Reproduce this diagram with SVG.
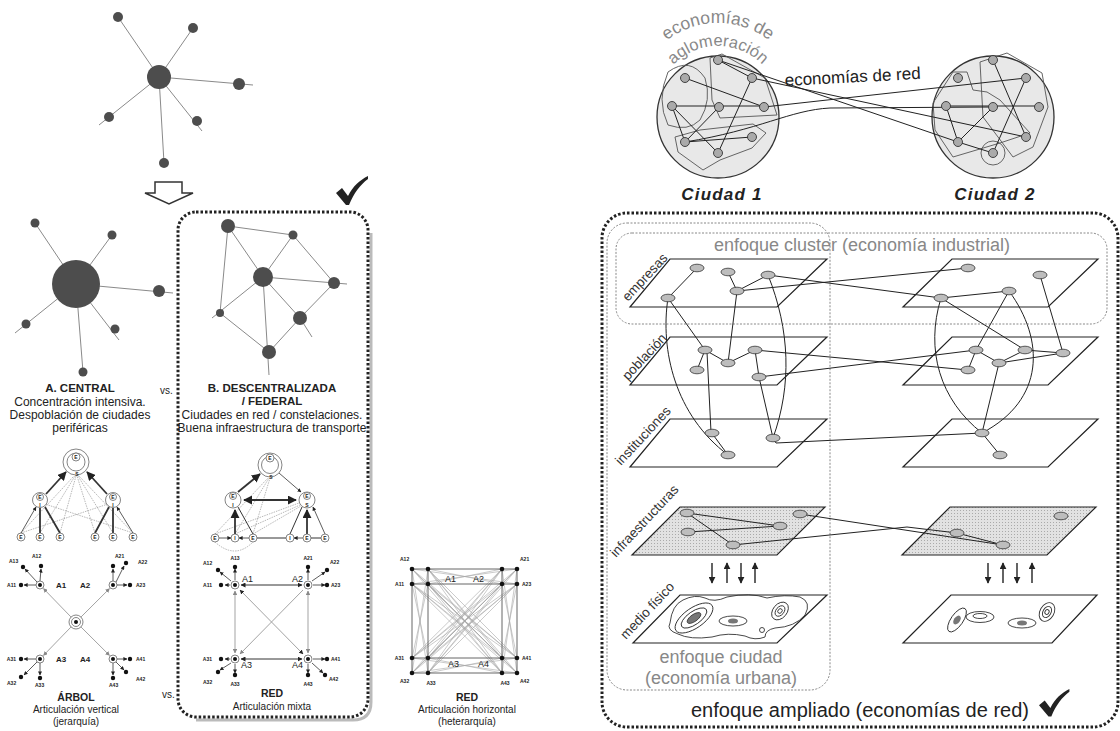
<svg xmlns="http://www.w3.org/2000/svg" width="1120" height="731" viewBox="0 0 1120 731">
<defs>
<style>
text{font-family:"Liberation Sans",Arial,sans-serif;fill:#222}
.b{font-weight:bold}
.c{text-anchor:middle}
.e{text-anchor:end}
.t12{font-size:12px}
.t10{font-size:10px}
.t9{font-size:9px}
.t8{font-size:8px}
.t5{font-size:5px;font-weight:bold}
.ln{stroke:#8a8a8a;stroke-width:1;fill:none}
.nd{fill:#4d4d4d}
.dk{stroke:#333;stroke-width:1;fill:none}
.ka{stroke:#333;stroke-width:0.8;fill:none;marker-end:url(#a)}
.thk{stroke:#333;stroke-width:1.8;fill:none}
.gr{stroke:#999;stroke-width:0.9;fill:none}
.dsh{stroke:#999;stroke-width:0.7;fill:none;stroke-dasharray:1.5 1}
.cw{fill:#fff;stroke:#666;stroke-width:0.8}
.dot{fill:#111}
.box{fill:none;stroke:#222;stroke-width:3;stroke-dasharray:2.5 2}
.shd{fill:none;stroke:#bbb;stroke-width:3}
.inner{fill:none;stroke:#888;stroke-width:1;stroke-dasharray:2 1.5}
.pl{fill:#fff;stroke:#222;stroke-width:1.2}
.pli{fill:url(#hatch);stroke:#222;stroke-width:1.2}
.en{fill:#bdbdbd;stroke:#333;stroke-width:0.8}
.cn{fill:#aaa;stroke:#333;stroke-width:0.9}
.cy{fill:#e8e8e8;stroke:#333;stroke-width:1.3}
.blob{fill:none;stroke:#555;stroke-width:0.9}
.cl{stroke:#222;stroke-width:1;fill:none}
.va{stroke:#222;stroke-width:1.4;fill:none;marker-end:url(#a)}
.ct{fill:none;stroke:#333;stroke-width:0.9}
.gt{fill:#888}
.lay{font-size:13.5px;fill:#333}
</style>
<marker id="a" viewBox="0 0 10 10" refX="9" refY="5" markerWidth="5" markerHeight="5" orient="auto-start-reverse"><path d="M0 0L10 5L0 10z" fill="#222"/></marker>
<marker id="ag" viewBox="0 0 10 10" refX="9" refY="5" markerWidth="5" markerHeight="5" orient="auto-start-reverse"><path d="M0 0L10 5L0 10z" fill="#888"/></marker>
<pattern id="hatch" width="3" height="3" patternUnits="userSpaceOnUse"><rect width="3" height="3" fill="#e2e2e2"/><rect width="1" height="1" fill="#aaa"/></pattern>
<path id="chk" d="M0 17L6 12L12 20C17 10 24 4 32 0L32 3C24 9 18 17 13 29L10 29Z" fill="#222"/>
<path id="arc1" d="M644.4 65.5A85 85 0 0 1 791.6 65.5"/>
<path id="arc2" d="M664.3 77A62 62 0 0 1 771.7 77"/>
</defs>
<rect width="1120" height="731" fill="#fff"/>

<!-- ============ LEFT PANEL ============ -->
<g id="star-top">
<path class="ln" d="M159 77L118 17M159 77L193 28M159 77L253 85M159 77L99 125M159 77L202 131M159 77L164 163"/>
<circle class="nd" cx="159" cy="77" r="12"/>
<circle class="nd" cx="118" cy="17" r="5"/>
<circle class="nd" cx="193" cy="28" r="5"/>
<circle class="nd" cx="239" cy="84" r="6"/>
<circle class="nd" cx="109" cy="117" r="5"/>
<circle class="nd" cx="197" cy="121" r="5"/>
<circle class="nd" cx="164" cy="163" r="5"/>
</g>
<g id="down-arrow">
<path d="M155 182H182V193H193L169 204L145 193H155Z" fill="#fff" stroke="#333" stroke-width="1.5"/>
</g>

<g id="central">
<path class="ln" d="M76 284L35 223M76 284L112 235M76 284L173 293M76 284L15 333M76 284L119 340M76 284L83 372"/>
<circle class="nd" cx="76" cy="284" r="24"/>
<circle class="nd" cx="35" cy="223" r="4.5"/>
<circle class="nd" cx="112" cy="235" r="4.5"/>
<circle class="nd" cx="159" cy="291" r="6"/>
<circle class="nd" cx="26" cy="324" r="4.5"/>
<circle class="nd" cx="115" cy="329" r="4.5"/>
<circle class="nd" cx="83" cy="372" r="4.5"/>
<text class="b c" x="80" y="392" style="font-size:11.5px">A. CENTRAL</text>
<text class="c t12" x="80" y="406">Concentración intensiva.</text>
<text class="c t12" x="80" y="419">Despoblación de ciudades</text>
<text class="c t12" x="80" y="432">periféricas</text>
</g>
<text class="t10" x="160" y="394">vs.</text>

<g id="box-b">
<path class="shd" d="M371 233V702Q371 720 353 720H196"/>
<rect class="box" x="178" y="212" width="190" height="505" rx="18"/>
<use href="#chk" transform="translate(336,176)"/>
</g>

<g id="descentralizada">
<path class="ln" d="M228 226L293 235M228 226L263 277M228 226L220 313M293 235L263 277M293 235L334 283M263 277L347 284M263 277L212 318M263 277L300 318M263 277L269 375M334 283L300 318M220 313L269 352M269 352L300 318M300 318L312 337"/>
<circle class="nd" cx="228" cy="226" r="7"/>
<circle class="nd" cx="293" cy="235" r="4.5"/>
<circle class="nd" cx="263" cy="277" r="10"/>
<circle class="nd" cx="334" cy="283" r="6"/>
<circle class="nd" cx="220" cy="313" r="4"/>
<circle class="nd" cx="300" cy="318" r="7"/>
<circle class="nd" cx="269" cy="352" r="7"/>
<text class="b c" x="272" y="392" style="font-size:11.5px">B. DESCENTRALIZADA</text>
<text class="b c" x="272" y="405" style="font-size:11.5px">/ FEDERAL</text>
<text class="c t12" x="272" y="419">Ciudades en red / constelaciones.</text>
<text class="c t12" x="272" y="432">Buena infraestructura de transporte</text>
</g>

<g id="tree-a">
<path class="dsh" d="M21 533L74 476M40 533L75 476M60 533L76 476M95 533L77 476M113 533L78 476M133 533L79 476M21 533L108 504M133 533L45 504"/>
<path class="thk" d="M40 533V508M60 533L45 507M95 533L109 507M113 533V508"/>
<path class="ka" d="M21 533L36 507"/>
<path class="ka" d="M133 533L117 507"/>
<path class="thk" d="M46 494L66 472" marker-end="url(#a)"/>
<path class="thk" d="M107 494L87 472" marker-end="url(#a)"/>
<circle class="cw" cx="76" cy="462" r="13"/>
<circle class="cw" cx="76" cy="462" r="9"/>
<circle class="cw" cx="76" cy="457" r="4"/>
<text class="t5 c" x="76" y="459">E</text>
<text class="t5 c" x="77" y="476">S</text>
<circle class="cw" cx="40" cy="500" r="7.5"/>
<circle class="cw" cx="40" cy="497" r="3.5"/>
<text class="t5 c" x="40" y="499">E</text>
<text class="t5 c" x="40" y="507">I</text>
<circle class="cw" cx="113" cy="500" r="7.5"/>
<circle class="cw" cx="113" cy="497" r="3.5"/>
<text class="t5 c" x="113" y="499">E</text>
<text class="t5 c" x="113" y="507">I</text>
<g>
<circle class="cw" cx="21" cy="537" r="4"/><text class="t5 c" x="21" y="539">E</text>
<circle class="cw" cx="40" cy="537" r="4"/><text class="t5 c" x="40" y="539">E</text>
<circle class="cw" cx="60" cy="537" r="4"/><text class="t5 c" x="60" y="539">E</text>
<circle class="cw" cx="95" cy="537" r="4"/><text class="t5 c" x="95" y="539">E</text>
<circle class="cw" cx="113" cy="537" r="4"/><text class="t5 c" x="113" y="539">E</text>
<circle class="cw" cx="133" cy="537" r="4"/><text class="t5 c" x="133" y="539">E</text>
</g>
</g>

<g id="tree-b">
<path class="dsh" d="M215 534L268 478M235 534L269 478M253 534L270 478M215 534L299 503M235 534L300 505M253 534L301 506"/>
<path class="dsh" d="M215 542Q235 560 253 542"/>
<path class="thk" d="M238 492L260 474" marker-end="url(#a)"/>
<path class="ka" d="M279 473L301 492"/>
<path class="thk" d="M244 500H296" marker-start="url(#a)" marker-end="url(#a)"/>
<path class="ka" d="M219 538H231"/>
<path class="ka" d="M249 538H239"/>
<path class="dk" d="M257 538H286"/>
<path class="ka" d="M303 538H294"/>
<path class="dk" d="M311 538H321"/>
<path class="thk" d="M235 534V510" marker-end="url(#a)"/>
<path class="thk" d="M307 534V510" marker-end="url(#a)"/>
<path class="dk" d="M253 534L238 507M290 534L302 507"/>
<path class="ka" d="M325 534L313 507"/>
<circle class="cw" cx="270" cy="465" r="12"/>
<circle class="cw" cx="270" cy="465" r="8.5"/>
<circle class="cw" cx="270" cy="458" r="4"/>
<text class="t5 c" x="270" y="460">E</text>
<text class="t5 c" x="271" y="479">S</text>
<circle class="cw" cx="233" cy="500" r="8"/>
<circle class="cw" cx="233" cy="496" r="3.5"/>
<text class="t5 c" x="233" y="498">E</text>
<text class="t5 c" x="233" y="507">I</text>
<circle class="cw" cx="307" cy="500" r="8"/>
<circle class="cw" cx="307" cy="496" r="3.5"/>
<text class="t5 c" x="307" y="498">E</text>
<text class="t5 c" x="307" y="507">S</text>
<g>
<circle class="cw" cx="215" cy="538" r="4"/><text class="t5 c" x="215" y="540">E</text>
<circle class="cw" cx="235" cy="538" r="4"/><text class="t5 c" x="235" y="540">I</text>
<circle class="cw" cx="253" cy="538" r="4"/><text class="t5 c" x="253" y="540">E</text>
<circle class="cw" cx="290" cy="538" r="4"/><text class="t5 c" x="290" y="540">I</text>
<circle class="cw" cx="307" cy="538" r="4"/><text class="t5 c" x="307" y="540">E</text>
<circle class="cw" cx="325" cy="538" r="4"/><text class="t5 c" x="325" y="540">E</text>
</g>
</g>

<g id="arbol">
<path class="gr" d="M71 617L43.5 588.6" marker-end="url(#ag)"/>
<path class="gr" d="M81 617L109.5 588.6" marker-end="url(#ag)"/>
<path class="gr" d="M71 627L43.5 655.4" marker-end="url(#ag)"/>
<path class="gr" d="M81 627L109.5 655.4" marker-end="url(#ag)"/>
<path class="ka" d="M36 585H24"/><path class="ka" d="M37 582L25 569"/><path class="ka" d="M40 581L41 569"/>
<path class="ka" d="M113 581V569"/><path class="ka" d="M116 582L124 566"/><path class="ka" d="M117 585H127"/>
<path class="ka" d="M36 659H24"/><path class="ka" d="M37 662L24 675"/><path class="ka" d="M40 663V675"/>
<path class="ka" d="M117 659H127"/><path class="ka" d="M116 662L124 670"/><path class="ka" d="M113 663V675"/>
<circle class="cw" cx="76" cy="622" r="7"/><circle class="cw" cx="76" cy="622" r="4.5"/><circle class="dot" cx="76" cy="622" r="2"/>
<circle class="cw" cx="40" cy="585" r="4"/><circle class="dot" cx="40" cy="585" r="2"/>
<circle class="cw" cx="113" cy="585" r="4"/><circle class="dot" cx="113" cy="585" r="2"/>
<circle class="cw" cx="40" cy="659" r="4"/><circle class="dot" cx="40" cy="659" r="2"/>
<circle class="cw" cx="113" cy="659" r="4"/><circle class="dot" cx="113" cy="659" r="2"/>
<g class="dot">
<circle cx="21" cy="585" r="2.2"/><circle cx="23" cy="567" r="2.2"/><circle cx="41" cy="566" r="2.2"/>
<circle cx="113" cy="566" r="2.2"/><circle cx="126" cy="563" r="2.2"/><circle cx="130" cy="585" r="2.2"/>
<circle cx="21" cy="659" r="2.2"/><circle cx="21" cy="677" r="2.2"/><circle cx="40" cy="678" r="2.2"/>
<circle cx="130" cy="659" r="2.2"/><circle cx="126" cy="672" r="2.2"/><circle cx="113" cy="678" r="2.2"/>
</g>
<text class="t5 e" x="16" y="587">A11</text>
<text class="t5" x="9" y="563">A13</text>
<text class="t5" x="32" y="558">A12</text>
<text class="t5" x="115" y="558">A21</text>
<text class="t5" x="138" y="564">A22</text>
<text class="t5" x="136" y="587">A23</text>
<text class="t5 e" x="16" y="661">A31</text>
<text class="t5" x="7" y="685">A32</text>
<text class="t5" x="35" y="687">A33</text>
<text class="t5" x="136" y="661">A41</text>
<text class="t5" x="136" y="681">A42</text>
<text class="t5" x="109" y="687">A43</text>
<text class="t8 b" x="56" y="588">A1</text>
<text class="t8 b" x="80" y="588">A2</text>
<text class="t8 b" x="56" y="662">A3</text>
<text class="t8 b" x="80" y="662">A4</text>
<text class="b c" x="76" y="701" style="font-size:10.5px">ÁRBOL</text>
<text class="c t10" x="76" y="713">Articulación vertical</text>
<text class="c t10" x="76" y="725">(jerarquía)</text>
</g>
<text class="t10" x="162" y="698">vs.</text>

<g id="red-mixta">
<path class="dk" d="M241 585H302" marker-start="url(#a)" marker-end="url(#a)"/>
<path class="dk" d="M241 659H302" marker-start="url(#a)" marker-end="url(#a)"/>
<path class="gr" d="M235 591V653" marker-start="url(#ag)" marker-end="url(#ag)"/>
<path class="gr" d="M308 591V653" marker-start="url(#ag)" marker-end="url(#ag)"/>
<path class="gr" d="M240 590L303 654" stroke="#666" marker-start="url(#a)" marker-end="url(#a)"/>
<path class="gr" d="M303 590L240 654" marker-end="url(#ag)"/>
<path class="ka" d="M230 585H225"/><path class="ka" d="M231 581L220 572"/><path class="ka" d="M235 580V569"/>
<path class="ka" d="M308 580V569"/><path class="ka" d="M312 581L325 572"/><path class="ka" d="M313 585H325"/>
<path class="ka" d="M230 659H225"/><path class="ka" d="M231 663L220 670"/><path class="ka" d="M235 664V673"/>
<path class="ka" d="M313 659H325"/><path class="ka" d="M312 663L323 673"/><path class="ka" d="M308 664V673"/>
<circle class="cw" cx="235" cy="585" r="4"/><circle class="dot" cx="235" cy="585" r="2"/>
<circle class="cw" cx="308" cy="585" r="4"/><circle class="dot" cx="308" cy="585" r="2"/>
<circle class="cw" cx="235" cy="659" r="4"/><circle class="dot" cx="235" cy="659" r="2"/>
<circle class="cw" cx="308" cy="659" r="4"/><circle class="dot" cx="308" cy="659" r="2"/>
<g class="dot">
<circle cx="221" cy="585" r="2.2"/><circle cx="218" cy="570" r="2.2"/><circle cx="235" cy="567" r="2.2"/>
<circle cx="308" cy="567" r="2.2"/><circle cx="327" cy="570" r="2.2"/><circle cx="327" cy="585" r="2.2"/>
<circle cx="221" cy="659" r="2.2"/><circle cx="218" cy="672" r="2.2"/><circle cx="235" cy="675" r="2.2"/>
<circle cx="327" cy="659" r="2.2"/><circle cx="325" cy="675" r="2.2"/><circle cx="308" cy="675" r="2.2"/>
</g>
<text class="t5 e" x="212" y="587">A11</text>
<text class="t5" x="203" y="565">A12</text>
<text class="t5 c" x="235" y="560">A13</text>
<text class="t5 c" x="308" y="560">A21</text>
<text class="t5" x="330" y="564">A22</text>
<text class="t5" x="331" y="587">A23</text>
<text class="t5 e" x="212" y="661">A31</text>
<text class="t5" x="203" y="684">A32</text>
<text class="t5 c" x="235" y="686">A33</text>
<text class="t5" x="331" y="661">A41</text>
<text class="t5" x="329" y="681">A42</text>
<text class="t5 c" x="308" y="686">A43</text>
<text class="t9" x="242" y="582">A1</text>
<text class="t9" x="292" y="582">A2</text>
<text class="t9" x="241" y="668">A3</text>
<text class="t9" x="292" y="668">A4</text>
<text class="b c" x="272" y="697" style="font-size:10.5px">RED</text>
<text class="c t10" x="272" y="710">Articulación mixta</text>
</g>

<g id="red-horizontal">
<path d="M412 569L502 658M412 569L517 673M412 569L502 673M412 569L517 658M428 569L502 658M428 569L517 673M428 569L502 673M428 569L517 658M412 584L502 658M412 584L517 673M412 584L502 673M412 584L517 658M428 584L502 658M428 584L517 673M428 584L502 673M428 584L517 658M502 569L412 658M502 569L428 673M502 569L412 673M502 569L428 658M517 569L412 658M517 569L428 673M517 569L412 673M517 569L428 658M502 584L412 658M502 584L428 673M502 584L412 673M502 584L428 658M517 584L412 658M517 584L428 673M517 584L412 673M517 584L428 658M412 569L428 673M428 569L412 673M412 584L428 658M428 584L412 658M502 569L517 673M517 569L502 673M502 584L517 658M517 584L502 658M412 569L517 584M412 584L517 569M428 569L502 584M428 584L502 569M412 658L517 673M412 673L517 658M428 658L502 673M428 673L502 658" fill="none" stroke="#a8a8a8" stroke-width="0.6"/>
<path d="M412 569H517M412 584H517M412 658H517M412 673H517M412 569V673M428 569V673M502 569V673M517 569V673" fill="none" stroke="#555" stroke-width="0.9"/>
<g class="dot">
<circle cx="412" cy="569" r="2.3"/><circle cx="428" cy="569" r="2.3"/><circle cx="502" cy="569" r="2.3"/><circle cx="517" cy="569" r="2.3"/>
<circle cx="412" cy="584" r="2.3"/><circle cx="428" cy="584" r="2.3"/><circle cx="502" cy="584" r="2.3"/><circle cx="517" cy="584" r="2.3"/>
<circle cx="412" cy="658" r="2.3"/><circle cx="428" cy="658" r="2.3"/><circle cx="502" cy="658" r="2.3"/><circle cx="517" cy="658" r="2.3"/>
<circle cx="412" cy="673" r="2.3"/><circle cx="428" cy="673" r="2.3"/><circle cx="502" cy="673" r="2.3"/><circle cx="517" cy="673" r="2.3"/>
</g>
<text class="t5" x="400" y="561">A12</text>
<text class="t5 e" x="404" y="586">A11</text>
<text class="t5 e" x="404" y="660">A31</text>
<text class="t5" x="400" y="683">A32</text>
<text class="t5 c" x="431" y="685">A33</text>
<text class="t5 c" x="505" y="685">A43</text>
<text class="t5" x="520" y="561">A21</text>
<text class="t5" x="522" y="586">A23</text>
<text class="t5" x="522" y="660">A41</text>
<text class="t5" x="520" y="683">A42</text>
<text class="t9" x="445" y="582">A1</text>
<text class="t9" x="473" y="582">A2</text>
<text class="t9" x="448" y="667">A3</text>
<text class="t9" x="478" y="667">A4</text>
<text class="b c" x="467" y="701" style="font-size:10.5px">RED</text>
<text class="c t10" x="467" y="713">Articulación horizontal</text>
<text class="c t10" x="467" y="725">(heterarquía)</text>
</g>

<!-- ============ RIGHT PANEL: CITIES ============ -->
<g id="ciudad-1">
<circle class="cy" cx="718" cy="117" r="61"/>
<path class="blob" d="M668 125Q656 100 668 72Q690 56 705 78Q712 100 700 120Q688 132 668 125Z"/>
<path class="blob" d="M710 58L722 54L765 78L777 115L720 118L712 100Z"/>
<path class="blob" d="M675 137L700 130L753 124L766 133L752 148L720 160L703 170L678 152Z"/>
<text class="gt c" style="font-size:17.5px"><textPath href="#arc1" startOffset="50%">economías de</textPath></text>
<text class="gt c" style="font-size:16.5px"><textPath href="#arc2" startOffset="50%">aglomeración</textPath></text>
<text class="b c" x="722" y="200" style="font-size:17px;font-style:italic;letter-spacing:1.2px">Ciudad 1</text>
</g>
<g id="ciudad-2">
<circle class="cy" cx="993" cy="117" r="61"/>
<path class="blob" d="M933 103L953 72L967 72L973 90L987 92L1000 100L1030 133L1000 143L953 157L935 130Z"/>
<path class="blob" d="M980 62L1007 53L1042 73L1048 107L1033 147L1013 157L983 117Z"/>
<circle class="blob" cx="993" cy="153" r="12"/>
<text class="b c" x="995" y="200" style="font-size:17px;font-style:italic;letter-spacing:1.2px">Ciudad 2</text>
</g>
<g id="city-connectors">
<path class="cl" d="M685 78L764 107M672 106H764M672 106L685 142M672 106L718 153M752 78L718 153M719 107L685 142M685 142L752 137M718 60L752 78"/>
<path class="cl" d="M946 106H1039M993 60L1026 137M1026 78L993 153M946 106L958 142M958 142L993 107M958 142L993 153"/>
<path class="cl" d="M764 107L1026 78M718 60L958 142M752 78L1026 137M685 142C760 130 790 110 830 108L993 107"/>
</g>
<g id="city-nodes">
<circle class="cn" cx="718" cy="60" r="4.5"/><circle class="cn" cx="685" cy="78" r="4.5"/><circle class="cn" cx="752" cy="78" r="4.5"/>
<circle class="cn" cx="672" cy="106" r="4.5"/><circle class="cn" cx="719" cy="107" r="4.5"/><circle class="cn" cx="764" cy="107" r="4.5"/>
<circle class="cn" cx="685" cy="142" r="4.5"/><circle class="cn" cx="752" cy="137" r="4.5"/><circle class="cn" cx="718" cy="153" r="4.5"/>
<circle class="cn" cx="993" cy="60" r="4.5"/><circle class="cn" cx="958" cy="78" r="4.5"/><circle class="cn" cx="1026" cy="78" r="4.5"/>
<circle class="cn" cx="946" cy="106" r="4.5"/><circle class="cn" cx="993" cy="107" r="4.5"/><circle class="cn" cx="1039" cy="107" r="4.5"/>
<circle class="cn" cx="958" cy="142" r="4.5"/><circle class="cn" cx="1026" cy="137" r="4.5"/><circle class="cn" cx="993" cy="153" r="4.5"/>
</g>
<text x="785" y="86" style="font-size:17px" transform="rotate(-3 785 86)">economías de red</text>

<!-- ============ RIGHT PANEL: LAYERS ============ -->
<g id="box-ampliado">
<rect class="box" x="602" y="213" width="516" height="514" rx="25"/>
<rect class="inner" x="607" y="223" width="223" height="467" rx="20"/>
<rect class="inner" x="616" y="233" width="491" height="91" rx="16"/>
<text class="gt c" x="862" y="251" style="font-size:18px">enfoque cluster (economía industrial)</text>
<text class="gt c" x="721" y="663" style="font-size:18px">enfoque ciudad</text>
<text class="gt c" x="721" y="684" style="font-size:18px">(economía urbana)</text>
<text class="c" x="860" y="717" style="font-size:20px">enfoque ampliado (economías de red)</text>
<use href="#chk" transform="translate(1039,689) scale(0.95)"/>
</g>

<g id="planes">
<polygon class="pl" points="670,259 827,259 777,307 630,307"/>
<polygon class="pl" points="670,337 827,337 777,385 630,385"/>
<polygon class="pl" points="670,419 827,419 777,467 630,467"/>
<polygon class="pli" points="680,507 825,507 777,555 632,555"/>
<polygon class="pl" points="680,595 827,595 777,643 633,643"/>
<polygon class="pl" points="952,259 1098,259 1048,307 903,307"/>
<polygon class="pl" points="952,337 1098,337 1048,385 903,385"/>
<polygon class="pl" points="952,419 1098,419 1048,467 903,467"/>
<polygon class="pli" points="950,507 1096,507 1047,555 902,555"/>
<polygon class="pl" points="951,595 1097,595 1052,643 903,643"/>
</g>
<g id="layer-labels">
<text class="lay" x="628" y="302" transform="rotate(-47 628 302)">empresas</text>
<text class="lay" x="628" y="381" transform="rotate(-47 628 381)">población</text>
<text class="lay" x="621" y="466" transform="rotate(-47 621 466)">instituciones</text>
<text class="lay" x="616" y="558" transform="rotate(-47 616 558)">infraestructuras</text>
<text class="lay" x="626" y="640" transform="rotate(-47 626 640)">medio físico</text>
</g>
<g id="layer-connectors">
<path class="cl" d="M668 298C660 350 675 415 728 455M768 275C790 330 792 385 773 438M941 298C925 350 940 400 982 433M1009 291C1045 340 1045 400 982 433"/>
<path class="cl" d="M668 298L697 268M728 272L737 291M737 291L768 275M737 291L968 268M768 275L941 298M668 298L705 350M737 291L728 363"/>
<path class="cl" d="M697 370L705 350M705 350L728 363M728 363L755 350M755 350L759 377M759 377L976 350M755 350L968 370M707 352L711 432M759 377L773 438M711 432L728 455M773 438L776 443L982 433"/>
<path class="cl" d="M941 298L1009 291M941 298L1025 350M1009 291L976 350M1040 275L1063 353M968 370L976 350M976 350L999 363M999 363L1025 350M999 363L1063 353M1025 350L1063 353M999 363L982 433M982 433L1000 455"/>
<path class="cl" d="M687 513L780 526M688 532L780 526M687 513L733 545M733 545L907 527L957 533M957 533L1003 545M800 514L1003 545"/>
<path class="va" d="M712 563V583"/><path class="va" d="M727 583V563"/><path class="va" d="M741 563V583"/><path class="va" d="M755 583V563"/>
<path class="va" d="M988 563V583"/><path class="va" d="M1003 583V563"/><path class="va" d="M1017 563V583"/><path class="va" d="M1032 583V563"/>
</g>
<g id="layer-nodes">
<ellipse class="en" cx="697" cy="268" rx="7" ry="3.8"/><ellipse class="en" cx="728" cy="272" rx="7" ry="3.8"/><ellipse class="en" cx="768" cy="275" rx="7" ry="3.8"/><ellipse class="en" cx="737" cy="291" rx="7" ry="3.8"/><ellipse class="en" cx="668" cy="298" rx="7" ry="3.8"/>
<ellipse class="en" cx="968" cy="268" rx="7" ry="3.8"/><ellipse class="en" cx="1040" cy="275" rx="7" ry="3.8"/><ellipse class="en" cx="1009" cy="291" rx="7" ry="3.8"/><ellipse class="en" cx="941" cy="298" rx="7" ry="3.8"/>
<ellipse class="en" cx="705" cy="350" rx="7" ry="3.8"/><ellipse class="en" cx="755" cy="350" rx="7" ry="3.8"/><ellipse class="en" cx="728" cy="363" rx="7" ry="3.8"/><ellipse class="en" cx="697" cy="370" rx="7" ry="3.8"/><ellipse class="en" cx="759" cy="377" rx="7" ry="3.8"/>
<ellipse class="en" cx="976" cy="350" rx="7" ry="3.8"/><ellipse class="en" cx="1025" cy="350" rx="7" ry="3.8"/><ellipse class="en" cx="1063" cy="353" rx="7" ry="3.8"/><ellipse class="en" cx="999" cy="363" rx="7" ry="3.8"/><ellipse class="en" cx="968" cy="370" rx="7" ry="3.8"/>
<ellipse class="en" cx="712" cy="433" rx="7" ry="3.8"/><ellipse class="en" cx="773" cy="438" rx="7" ry="3.8"/><ellipse class="en" cx="728" cy="455" rx="7" ry="3.8"/>
<ellipse class="en" cx="982" cy="433" rx="7" ry="3.8"/><ellipse class="en" cx="1000" cy="455" rx="7" ry="3.8"/>
<ellipse class="en" cx="687" cy="513" rx="7" ry="3.8"/><ellipse class="en" cx="800" cy="514" rx="7" ry="3.8"/><ellipse class="en" cx="780" cy="526" rx="7" ry="3.8"/><ellipse class="en" cx="688" cy="532" rx="7" ry="3.8"/><ellipse class="en" cx="733" cy="545" rx="7" ry="3.8"/>
<ellipse class="en" cx="1061" cy="516" rx="7" ry="3.8"/><ellipse class="en" cx="957" cy="533" rx="7" ry="3.8"/><ellipse class="en" cx="1003" cy="545" rx="7" ry="3.8"/>
</g>
<g id="medio-fisico">
<path class="ct" d="M670 623Q672 605 683 600Q695 594 705 598Q714 603 727 597Q750 592 767 598Q785 594 800 597Q812 602 805 615Q795 627 775 628Q765 630 765 637Q755 641 745 636Q728 632 712 637Q690 640 678 634Q666 630 670 623Z"/>
<g transform="rotate(-35 694 618)"><ellipse class="ct" cx="694" cy="618" rx="22" ry="10"/><ellipse class="ct" cx="694" cy="618" rx="15" ry="6.5"/><ellipse cx="694" cy="618" rx="8" ry="3.5" fill="#777" stroke="#333" stroke-width="0.8"/></g>
<ellipse class="ct" cx="733" cy="621" rx="14" ry="5"/><ellipse cx="733" cy="621" rx="5" ry="2.5" fill="#777"/>
<g transform="rotate(-50 780 611)"><ellipse class="ct" cx="780" cy="611" rx="10" ry="7"/><ellipse class="ct" cx="780" cy="611" rx="6" ry="4"/><ellipse class="ct" cx="780" cy="611" rx="2.5" ry="2"/></g>
<circle class="ct" cx="762" cy="630" r="2.5"/>
<g transform="rotate(-55 957 620)"><ellipse class="ct" cx="957" cy="620" rx="14" ry="6"/><ellipse cx="957" cy="620" rx="5" ry="3" fill="#777"/></g>
<ellipse class="ct" cx="980" cy="617" rx="14" ry="5.5"/><ellipse class="ct" cx="980" cy="616" rx="7" ry="2.5"/>
<ellipse class="ct" cx="1022" cy="623" rx="14" ry="5"/><ellipse cx="1022" cy="623" rx="5" ry="2.5" fill="#777"/>
<g transform="rotate(-60 1047 612)"><ellipse class="ct" cx="1047" cy="612" rx="10" ry="7"/><ellipse class="ct" cx="1047" cy="612" rx="6" ry="4"/><ellipse class="ct" cx="1047" cy="612" rx="2.5" ry="2"/></g>
</g>
</svg>
